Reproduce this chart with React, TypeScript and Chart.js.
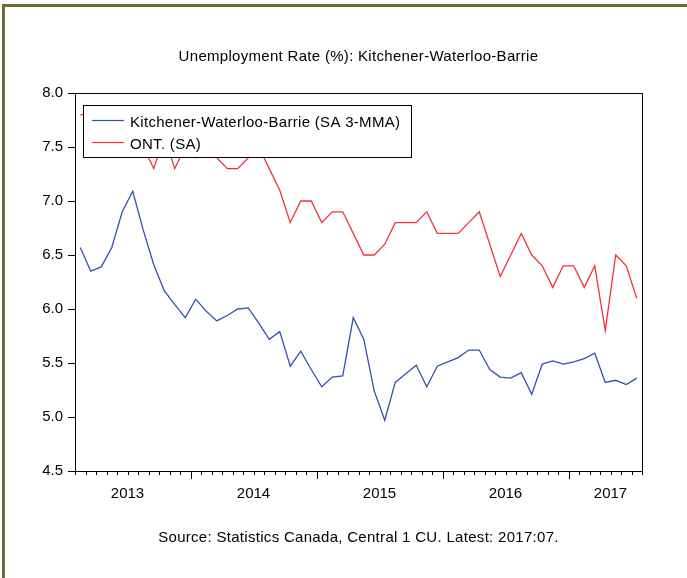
import { useEffect, useRef } from 'react';
import { Chart, registerables } from 'chart.js';

Chart.register(...registerables);

const months = [
  '2013:02', '2013:03', '2013:04', '2013:05', '2013:06', '2013:07', '2013:08', '2013:09', '2013:10', '2013:11', '2013:12',
  '2014:01', '2014:02', '2014:03', '2014:04', '2014:05', '2014:06', '2014:07', '2014:08', '2014:09', '2014:10', '2014:11', '2014:12',
  '2015:01', '2015:02', '2015:03', '2015:04', '2015:05', '2015:06', '2015:07', '2015:08', '2015:09', '2015:10', '2015:11', '2015:12',
  '2016:01', '2016:02', '2016:03', '2016:04', '2016:05', '2016:06', '2016:07', '2016:08', '2016:09', '2016:10', '2016:11', '2016:12',
  '2017:01', '2017:02', '2017:03', '2017:04', '2017:05', '2017:06', '2017:07',
];

const kwb = [
  6.57, 6.35, 6.39, 6.57, 6.9, 7.09, 6.73, 6.41, 6.17, 6.04, 5.92,
  6.09, 5.98, 5.89, 5.94, 6.0, 6.01, 5.87, 5.72, 5.79, 5.47, 5.61, 5.44,
  5.28, 5.37, 5.38, 5.92, 5.72, 5.24, 4.97, 5.32, 5.4, 5.48, 5.28, 5.47,
  5.51, 5.55, 5.62, 5.62, 5.44, 5.37, 5.36, 5.41, 5.21, 5.49, 5.52, 5.49,
  5.51, 5.54, 5.59, 5.32, 5.34, 5.3, 5.36,
];

const ont = [
  7.8, 7.8, 7.7, 7.6, 7.5, 7.6, 7.5, 7.3, 7.6, 7.3, 7.5,
  7.4, 7.5, 7.4, 7.3, 7.3, 7.4, 7.5, 7.3, 7.1, 6.8, 7.0, 7.0,
  6.8, 6.9, 6.9, 6.7, 6.5, 6.5, 6.6, 6.8, 6.8, 6.8, 6.9, 6.7,
  6.7, 6.7, 6.8, 6.9, 6.6, 6.3, 6.5, 6.7, 6.5, 6.4, 6.2, 6.4,
  6.4, 6.2, 6.4, 5.8, 6.5, 6.4, 6.1,
];

const years = ['2013', '2014', '2015', '2016', '2017'];
const seriesNames = ['Kitchener-Waterloo-Barrie (SA 3-MMA)', 'ONT. (SA)'];
const titleText = 'Unemployment Rate (%): Kitchener-Waterloo-Barrie';
const sourceText = 'Source: Statistics Canada, Central 1 CU. Latest: 2017:07.';

const FONT = '"Liberation Sans", Arial, sans-serif';
const BLUE = '#3352ad';
const RED = '#f2333a';

const decorPlugin = {
  id: 'decor',
  beforeDraw(chart: any) {
    const ctx = chart.ctx;
    ctx.save();
    ctx.fillStyle = '#ffffff';
    ctx.fillRect(0, 0, chart.width, chart.height);
    ctx.fillStyle = '#6e6e32';
    ctx.fillRect(2, 4, 3, chart.height);
    ctx.fillRect(2, 4, chart.width, 3);
    ctx.restore();
  },
  afterDatasetsDraw(chart: any) {
    const ctx = chart.ctx;
    const a = chart.chartArea;
    const xs = chart.scales.x;
    const w = xs.getPixelForValue(1) - xs.getPixelForValue(0);
    const cx = (a.left + a.right) / 2;
    ctx.save();
    // frame
    ctx.strokeStyle = '#000';
    ctx.lineWidth = 1;
    ctx.strokeRect(Math.round(a.left) + 0.5, Math.round(a.top) + 0.5, Math.round(a.right - a.left), Math.round(a.bottom - a.top));

    // x ticks
    const n = months.length;
    ctx.beginPath();
    for (let i = 0; i <= n; i++) {
      const x = i < n ? xs.getPixelForValue(i) - w / 2 : xs.getPixelForValue(n - 1) + w / 2;
      const major = i < n && months[i].endsWith(':01');
      const px = Math.round(x) + 0.5;
      ctx.moveTo(px, a.bottom);
      ctx.lineTo(px, a.bottom + (major ? 8 : 4));
    }
    ctx.stroke();

    // year labels
    ctx.fillStyle = '#000';
    ctx.font = `15px ${FONT}`;
    ctx.textAlign = 'center';
    ctx.textBaseline = 'alphabetic';
    years.forEach((yr, k) => {
      const idx = months.map((m, i) => (m.startsWith(yr) ? i : -1)).filter((i) => i >= 0);
      const start = xs.getPixelForValue(idx[0]) - w / 2;
      const end = xs.getPixelForValue(idx[idx.length - 1]) + w / 2;
      let c;
      if (k === years.length - 1 && idx.length < 12) c = start + Math.ceil(idx.length / 2) * w;
      else c = end - 6 * w;
      ctx.fillText(yr, c, 497.5);
    });

    // title & source
    try { (ctx as any).letterSpacing = '0.3px'; } catch (e) { /* ignore */ }
    ctx.font = `15px ${FONT}`;
    ctx.fillText(titleText, cx, 61);
    ctx.fillText(sourceText, cx, 542);

    // legend
    const lx = 83, ly = 105, lw = 328, lh = 52;
    ctx.fillStyle = '#fff';
    ctx.fillRect(lx, ly, lw, lh);
    ctx.strokeStyle = '#000';
    ctx.strokeRect(lx + 0.5, ly + 0.5, lw, lh);
    const rows = [
      { y: 120.5, color: BLUE, text: seriesNames[0] },
      { y: 142.5, color: RED, text: seriesNames[1] },
    ];
    ctx.textAlign = 'left';
    ctx.font = `15px ${FONT}`;
    rows.forEach((r) => {
      ctx.strokeStyle = r.color;
      ctx.lineWidth = 1.2;
      ctx.beginPath();
      ctx.moveTo(92, r.y);
      ctx.lineTo(124, r.y);
      ctx.stroke();
      ctx.fillStyle = '#000';
      ctx.fillText(r.text, 130, r.y + 6);
    });
    ctx.restore();
  },
};

export default function App() {
  const ref = useRef<HTMLCanvasElement | null>(null);
  useEffect(() => {
    if (!ref.current) return;
    const chart = new Chart(ref.current, {
      type: 'line',
      data: {
        labels: months,
        datasets: [
          { label: seriesNames[0], data: kwb, borderColor: BLUE, borderWidth: 1.3, pointRadius: 0, tension: 0, fill: false },
          { label: seriesNames[1], data: ont, borderColor: RED, borderWidth: 1.3, pointRadius: 0, tension: 0, fill: false },
        ],
      },
      options: {
        animation: false,
        responsive: false,
        maintainAspectRatio: false,
        layout: { padding: { left: 0, top: 93, right: 45, bottom: 107 } },
        plugins: {
          legend: { display: false },
          title: { display: false },
          tooltip: { enabled: false },
        },
        scales: {
          x: { type: 'category', offset: true, display: false },
          y: {
            min: 4.5,
            max: 8.0,
            ticks: {
              stepSize: 0.5,
              color: '#000',
              padding: 5,
              font: { family: FONT, size: 15 },
              callback: (v: any) => Number(v).toFixed(1),
            },
            grid: { drawOnChartArea: false, tickLength: 7, color: '#000' },
            border: { display: true, color: '#000', width: 1 },
            afterFit: (s: any) => {
              s.width = 75;
            },
          },
        },
      },
      plugins: [decorPlugin],
    });
    return () => chart.destroy();
  }, []);
  return (
    <div style={{ position: 'absolute', left: 0, top: 0, width: 687, height: 578 }}>
      <canvas ref={ref} width={687} height={578} style={{ width: 687, height: 578 }} />
    </div>
  );
}
